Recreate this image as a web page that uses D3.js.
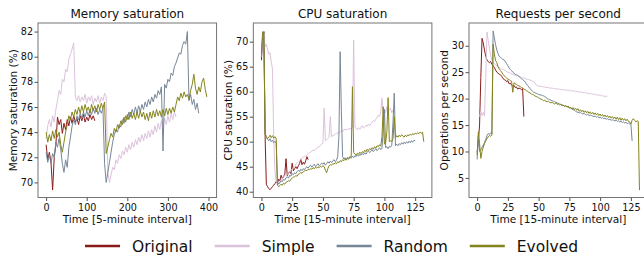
<!DOCTYPE html>
<html>
<head>
<meta charset="utf-8">
<script src="https://cdn.jsdelivr.net/npm/d3@7"></script>
<style>
body { margin: 0; background: #fff; }
text { font-family: "DejaVu Sans", sans-serif; fill: #111; }
</style>
</head>
<body>
<svg id="chart" width="644" height="259"></svg>
<script>
var seriesNames = ["Original", "Simple", "Random", "Evolved"];
var seriesColors = ["#8b1a1a", "#dcc3dc", "#778797", "#84841c"];

// memory saturation, 5-minute intervals, one value read every 4 intervals
var memStep = 4;
var memOriginal = [73.0,71.8,72.4,71.6,69.4,72.0,73.0,75.2,74.6,75.0,73.9,74.7,74.2,75.0,74.5,75.2,74.7,75.3,74.8,75.1,
  74.6,75.3,74.9,75.4,74.8,75.2,74.9,75.4,75.0,75.3,74.9];
var memSimple = [73.5,74.5,75.0,74.4,75.3,74.8,75.8,76.5,77.3,77.0,78.2,78.0,79.0,78.8,79.8,80.2,80.6,81.1,76.8,76.5,
  76.9,76.4,76.8,76.5,77.0,76.3,76.8,76.5,76.9,76.2,76.7,76.4,76.9,76.3,76.8,76.5,77.1,76.8,70.8,70.0,
  70.6,71.2,71.0,71.8,71.5,72.2,71.9,72.5,72.2,72.8,72.4,73.0,72.6,73.2,72.8,73.4,73.0,73.6,73.2,73.8,
  73.3,73.9,73.5,74.1,73.6,74.2,73.8,74.5,74.0,74.7,74.2,74.9,74.4,75.1,74.6,75.3,74.8,75.5,75.0,75.6,75.2];
var memRandom = [72.4,71.6,72.2,71.5,72.3,72.0,73.2,72.8,73.5,72.6,71.5,70.8,71.8,71.2,72.8,73.6,74.5,75.0,74.6,75.3,
  75.0,75.5,75.1,75.6,75.2,75.7,75.3,75.8,75.4,75.9,75.5,75.9,75.4,75.8,75.5,75.9,71.5,70.0,70.8,71.6,
  72.4,73.2,73.8,74.2,74.0,74.6,74.4,75.0,74.7,75.3,75.0,75.6,75.2,75.8,75.4,76.0,75.5,76.1,75.6,76.2,
  75.8,76.4,76.0,76.6,76.2,76.8,76.4,77.0,76.7,77.3,77.0,77.6,72.5,77.8,77.5,78.2,78.0,78.7,78.5,79.2,
  79.5,79.9,80.3,80.2,80.9,81.2,81.0,82.0,76.5,77.0,76.2,76.6,75.8,76.3,75.5];
var memEvolved = [74.0,73.2,73.8,73.3,74.1,73.5,74.2,73.6,74.0,73.0,72.4,73.2,74.0,74.6,75.3,75.0,75.6,75.2,75.8,75.4,
  76.0,75.5,76.1,75.6,76.2,75.7,76.0,75.5,76.2,75.7,76.1,75.6,76.2,75.8,76.3,75.9,76.4,72.3,72.8,73.4,
  73.9,73.6,74.3,74.0,74.6,74.3,74.9,74.6,75.2,74.8,75.4,75.0,75.6,75.1,75.5,75.0,75.6,75.1,75.7,75.2,
  75.6,75.0,75.5,74.9,75.6,75.1,75.7,75.2,75.8,75.3,75.7,75.2,75.8,75.3,75.9,75.4,75.9,75.5,76.0,75.6,
  76.2,76.8,76.5,77.1,76.7,77.2,76.8,77.0,76.6,77.3,77.8,78.6,77.5,77.0,77.6,77.2,78.0,78.3,77.4,76.8];

// CPU saturation, 15-minute intervals, one value per interval from 0
var cpuOriginal = [66.3,70.5,72.0,51.0,41.5,41.0,40.6,40.4,40.7,41.0,41.3,41.6,42.0,41.7,42.5,42.2,43.3,42.6,43.0,43.5,
  46.6,43.2,43.8,44.0,43.6,45.7,44.2,44.6,45.0,44.6,45.2,45.6,46.5,45.4,45.9,45.5,46.2,47.0,46.4];
var cpuSimple = [67.0,70.5,71.5,69.0,69.5,68.5,67.5,67.8,66.0,64.5,51.0,44.0,42.0,41.7,41.5,42.0,42.3,42.6,42.9,43.2,
  43.5,43.4,43.8,44.0,44.3,44.5,44.8,45.0,45.5,45.8,46.0,46.2,46.4,46.7,46.9,47.1,47.0,47.4,47.6,47.8,
  47.9,48.1,48.3,48.2,48.5,48.7,48.9,49.0,49.2,49.5,49.8,56.7,50.2,50.4,50.6,50.9,55.0,51.0,51.2,51.3,
  51.5,51.7,51.6,51.9,52.0,52.2,52.0,52.4,52.5,52.3,52.6,52.4,52.7,52.5,52.8,70.3,53.0,52.6,52.4,52.8,
  52.5,52.9,53.2,52.7,53.0,53.3,53.1,53.5,53.2,53.6,53.9,54.2,54.0,54.5,54.8,55.3,55.0,56.0,58.7,55.5,
  56.2,55.8,57.0,56.0,56.5,56.7,55.8,56.4];
var cpuRandom = [67.0,71.5,72.0,52.0,50.8,50.5,50.2,50.6,50.0,50.3,49.8,50.1,49.7,42.0,41.5,41.8,42.2,42.0,42.5,42.3,
  42.8,43.0,42.7,43.3,43.1,43.6,43.4,43.8,43.6,44.0,44.3,44.0,44.5,44.2,44.6,44.4,44.8,45.0,44.7,45.1,
  45.3,44.9,45.2,45.5,45.0,45.3,45.6,45.2,45.4,45.7,45.5,45.8,45.3,45.6,46.0,45.7,46.1,45.8,46.2,46.4,
  46.0,46.3,47.0,51.0,68.0,56.0,47.0,46.5,46.8,46.4,46.9,46.6,47.0,46.7,47.1,46.8,47.2,47.0,47.4,47.1,
  47.5,47.3,47.6,47.4,47.8,47.5,47.9,48.2,47.8,48.1,48.4,48.0,48.3,48.6,48.2,48.5,48.8,48.4,48.7,52.0,
  56.5,48.8,49.0,48.6,49.1,48.9,49.3,54.0,59.7,49.2,49.5,49.2,49.6,49.4,49.8,49.5,49.9,49.6,50.0,49.7,
  50.1,49.8,50.2,49.9,50.3,50.2];
var cpuEvolved = [67.5,72.0,71.0,51.5,51.0,50.6,50.9,51.3,50.8,51.2,50.7,51.0,50.6,41.3,41.0,41.2,41.5,41.3,41.7,41.5,
  41.9,42.0,42.2,42.1,42.5,42.7,42.9,43.0,43.2,43.1,43.5,43.6,43.8,43.7,44.0,44.1,44.3,44.2,44.5,44.4,
  44.6,44.5,44.8,44.6,44.9,44.7,45.0,44.8,45.1,44.9,45.2,45.0,44.3,43.8,44.6,45.2,45.4,45.3,45.6,45.5,
  45.8,45.6,46.0,45.8,46.2,46.0,46.4,46.2,46.5,46.3,46.7,46.5,46.9,47.0,61.0,47.8,47.5,47.3,47.7,47.5,
  47.9,47.6,48.0,47.8,48.3,48.0,48.5,48.2,48.6,48.4,48.8,48.5,49.0,48.7,49.2,49.0,49.4,49.1,51.0,57.0,
  49.5,49.8,52.0,58.8,50.0,50.2,50.0,50.6,55.0,50.8,51.2,50.9,51.3,51.0,51.4,51.1,50.9,51.3,51.0,51.4,
  51.2,51.5,51.3,51.6,51.4,51.7,51.5,51.8,51.6,51.9,51.7,51.9,50.0];

// requests per second, 15-minute intervals
var rpsOriginal = [9.8,12.0,15.0,24.0,31.4,30.5,29.2,28.0,27.3,27.0,26.8,27.0,26.5,26.2,25.9,25.4,25.0,24.8,24.6,24.5,
  24.2,23.8,23.6,23.5,23.2,23.4,22.8,22.9,22.6,22.3,22.5,22.1,22.2,21.8,22.0,21.9,21.7,21.9,16.6];
var rpsSimpleStart = 2;
var rpsSimple = [16.6,17.6,16.8,17.4,16.7,24.0,32.6,31.0,29.5,28.2,27.3,26.9,26.6,26.4,26.2,26.0,25.9,25.8,25.6,25.5,
  25.4,25.3,25.1,25.0,24.9,24.8,24.7,24.6,24.5,24.4,24.3,24.3,24.2,24.1,24.0,23.9,23.9,23.8,23.7,23.6,
  23.6,23.5,23.4,23.3,23.2,23.0,22.6,22.4,22.4,22.3,22.3,22.3,22.2,22.2,22.1,22.1,22.1,22.0,22.0,22.0,
  21.9,21.9,21.9,21.8,21.8,21.8,21.7,21.7,21.7,21.6,21.7,21.6,21.5,21.6,21.5,21.5,21.4,21.5,21.3,21.4,
  21.3,21.2,21.3,21.2,21.1,21.2,21.0,21.1,21.0,20.9,21.0,20.9,20.8,20.9,20.7,20.8,20.7,20.6,20.7,20.5,
  20.6,20.4,20.5,20.4,20.5];
var rpsRandom = [8.5,13.0,10.0,10.3,10.8,11.2,11.7,12.3,13.0,13.4,13.2,13.5,13.3,32.8,31.5,30.2,29.2,28.5,28.0,27.8,
  27.6,27.4,27.3,27.0,26.6,26.2,25.8,25.5,25.3,25.0,24.8,24.6,24.5,24.4,24.2,24.0,23.8,23.6,23.4,23.2,
  22.8,22.5,22.2,21.9,21.6,21.4,21.2,21.1,21.0,20.9,20.8,20.7,20.7,20.6,20.5,20.4,20.2,20.0,19.9,19.8,
  19.7,19.6,19.5,19.4,19.3,19.2,19.1,19.0,18.9,18.8,18.7,18.6,18.6,18.5,18.4,18.3,18.2,18.1,17.9,17.8,
  17.6,17.5,17.4,17.3,17.4,17.2,17.1,17.2,17.0,16.9,17.0,16.8,16.9,16.8,16.7,16.6,16.7,16.5,16.6,16.4,
  16.5,16.3,16.4,16.2,16.3,16.1,16.2,16.0,16.1,15.9,16.0,15.9,15.8,15.9,15.7,15.8,15.6,15.7,15.5,15.6,
  15.4,15.5,15.3,15.4,15.2,15.3,12.0];
var rpsEvolved = [9.3,13.7,11.5,8.7,10.0,10.8,11.5,12.0,12.4,12.8,13.0,12.9,13.1,30.3,28.5,27.2,26.8,26.0,25.6,25.3,
  25.0,24.6,24.3,24.1,23.9,23.7,23.6,23.4,23.3,21.2,23.0,22.8,22.7,22.5,22.4,22.3,22.1,22.0,21.8,21.7,
  21.5,21.4,21.2,21.1,20.9,20.8,20.7,20.5,20.4,20.3,20.2,20.0,19.9,19.8,19.6,19.7,19.5,19.4,19.5,19.3,
  19.2,19.3,19.1,19.0,19.2,18.9,19.0,18.8,18.9,18.7,18.8,18.5,18.7,18.4,18.6,18.2,18.4,18.0,18.3,17.9,
  18.2,17.8,18.1,17.6,17.9,17.5,17.8,17.4,17.7,17.3,17.6,17.2,17.5,17.1,17.4,17.0,17.3,16.9,17.2,16.8,
  17.1,16.7,17.0,16.6,16.9,16.5,16.8,16.4,16.7,16.3,16.6,16.2,16.5,16.1,16.5,16.0,16.4,15.9,16.3,15.9,
  16.2,15.8,16.1,15.7,15.6,15.2,15.9,16.2,15.9,15.6,15.8,15.7,2.7];

var memXTicks = [0, 100, 200, 300, 400];
var memYTicks = [70, 72, 74, 76, 78, 80, 82];
var cpuXTicks = [0, 25, 50, 75, 100, 125];
var cpuYTicks = [40, 45, 50, 55, 60, 65, 70];
var rpsXTicks = [0, 25, 50, 75, 100, 125];
var rpsYTicks = [5, 10, 15, 20, 25, 30];

var panels = [
  {title: "Memory saturation", xlabel: "Time [5-minute interval]", ylabel: "Memory saturation (%)",
   left: 38, xdom: [-20, 420], ydom: [68.8, 82.68], xticks: memXTicks, yticks: memYTicks,
   series: [
     {values: memOriginal, start: 0, step: memStep},
     {values: memSimple, start: 0, step: memStep},
     {values: memRandom, start: 0, step: memStep},
     {values: memEvolved, start: 0, step: memStep}]},
  {title: "CPU saturation", xlabel: "Time [15-minute interval]", ylabel: "CPU saturation (%)",
   left: 253.3, xdom: [-6.6, 138.6], ydom: [38.84, 73.74], xticks: cpuXTicks, yticks: cpuYTicks,
   series: [
     {values: cpuOriginal, start: 0, step: 1},
     {values: cpuSimple, start: 0, step: 1},
     {values: cpuRandom, start: 0, step: 1},
     {values: cpuEvolved, start: 0, step: 1}]},
  {title: "Requests per second", xlabel: "Time [15-minute interval]", ylabel: "Operations per second",
   left: 469, xdom: [-6.6, 138.6], ydom: [1.3, 34.3], xticks: rpsXTicks, yticks: rpsYTicks,
   series: [
     {values: rpsOriginal, start: 0, step: 1},
     {values: rpsSimple, start: rpsSimpleStart, step: 1},
     {values: rpsRandom, start: 0, step: 1},
     {values: rpsEvolved, start: 0, step: 1}]}
];

var svg = d3.select("#chart");
var top0 = 23, bottom0 = 197.5, pw = 178.6;

panels.forEach(function(p, pi) {
  var x = d3.scaleLinear().domain(p.xdom).range([0, pw]);
  var y = d3.scaleLinear().domain(p.ydom).range([bottom0 - top0, 0]);
  var g = svg.append("g").attr("transform", "translate(" + p.left + "," + top0 + ")");
  var h = bottom0 - top0;

  g.append("clipPath").attr("id", "clip" + pi)
    .append("rect").attr("width", pw).attr("height", h);

  var line = d3.line()
    .x(function(d) { return x(d.t); })
    .y(function(d) { return y(d.v); });

  var lines = g.append("g").attr("clip-path", "url(#clip" + pi + ")");
  p.series.forEach(function(s, si) {
    var pts = s.values.map(function(v, i) { return {t: s.start + i * s.step, v: v}; });
    lines.append("path")
      .attr("d", line(pts))
      .attr("fill", "none")
      .attr("stroke", seriesColors[si])
      .attr("stroke-width", 1)
      .attr("stroke-linejoin", "round");
  });

  var xa = g.append("g").attr("transform", "translate(0," + h + ")")
    .call(d3.axisBottom(x).tickValues(p.xticks).tickSize(3.5).tickPadding(3.4));
  var ya = g.append("g")
    .call(d3.axisLeft(y).tickValues(p.yticks).tickSize(3.5).tickPadding(1.5));
  [xa, ya].forEach(function(a) {
    a.select(".domain").remove();
    a.selectAll("line").attr("stroke", "#222").attr("stroke-width", 0.8);
    a.selectAll("text").style("font-size", "9.6px").style("font-family", "DejaVu Sans, sans-serif").attr("fill", "#111");
  });

  g.append("rect").attr("width", pw).attr("height", h)
    .attr("fill", "none").attr("stroke", "#666").attr("stroke-width", 0.9);

  g.append("text").attr("x", pw / 2).attr("y", -4.7)
    .attr("text-anchor", "middle").style("font-size", "12px").text(p.title);
  g.append("text").attr("x", pw / 2).attr("y", h + 25.5)
    .attr("text-anchor", "middle").style("font-size", "10.6px").text(p.xlabel);
  g.append("text").attr("transform", "translate(-21," + h / 2 + ") rotate(-90)")
    .attr("text-anchor", "middle").style("font-size", "10.6px").text(p.ylabel);
});

// legend
var lx = 85, ly = 246;
seriesNames.forEach(function(name, i) {
  svg.append("line").attr("x1", lx).attr("x2", lx + 35).attr("y1", ly).attr("y2", ly)
    .attr("stroke", seriesColors[i]).attr("stroke-width", 2.6);
  var t = svg.append("text").attr("x", lx + 47).attr("y", ly).attr("dy", "0.36em")
    .style("font-size", "15.5px").text(name);
  lx = lx + 47 + t.node().getComputedTextLength() + 22;
});
</script>
</body>
</html>
